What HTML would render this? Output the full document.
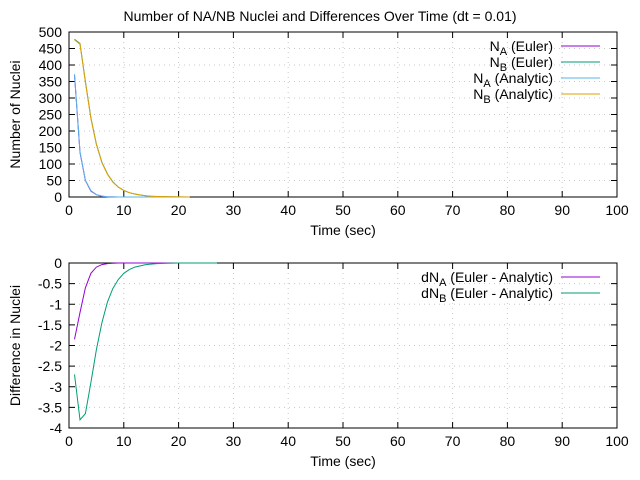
<!DOCTYPE html>
<html><head><meta charset="utf-8"><style>
html,body{margin:0;padding:0;background:#fff;}
svg{display:block;font-family:"Liberation Sans","DejaVu Sans",sans-serif;font-size:14px;}
</style></head><body>
<svg id="chart" width="640" height="480" xmlns="http://www.w3.org/2000/svg">
<rect width="640" height="480" fill="#fff"/>
<text x="320" y="21" text-anchor="middle">Number of NA/NB Nuclei and Differences Over Time (dt = 0.01)</text>
<g id="top"></g>
<g id="bot"></g>
</svg>
<script>
const tTop = [1,2,3,4,5,6,7,8,9,10,11,12,13,14,15,16,18,20,22];
const nAEuler = [370,135,50,18,7,2.5,1,0.3,0.1,0,0,0,0,0,0,0,0,0,0];
const nAAnalytic = [372,137,51,19,7,2.6,1,0.35,0.1,0,0,0,0,0,0,0,0,0,0];
const nBEuler = [478,465,350,240,160,105,70,46,30,20,13,9,6,4,2.5,1.6,0.7,0.3,0];
const nBAnalytic = [476,463,348,238,159,104,69,45,30,20,13,9,6,4,2.5,1.6,0.7,0.3,0];
const tBot = [1,2,3,4,5,6,7,8,9,10,11,12,14,16,18,20,24,27];
const dA = [-1.85,-1.2,-0.6,-0.25,-0.1,-0.04,-0.015,-0.005,0,0,0,0,0,0,0,0,0,0];
const dB = [-2.7,-3.8,-3.65,-2.9,-2.1,-1.45,-0.95,-0.62,-0.4,-0.25,-0.16,-0.1,-0.04,-0.015,-0.005,0,0,0];
const xTicks = [0,10,20,30,40,50,60,70,80,90,100];
const yTicksTop = [0,50,100,150,200,250,300,350,400,450,500];
const yTicksBot = [0,-0.5,-1,-1.5,-2,-2.5,-3,-3.5,-4];

const NS="http://www.w3.org/2000/svg";
function mk(parent,tag,attrs){const e=document.createElementNS(NS,tag);for(const k in attrs)e.setAttribute(k,attrs[k]);parent.appendChild(e);return e;}
const L=69,R=617;
function plot(g,top,bottom,ymin,ymax,yTicks,ylabel,series,legend){
  const sx=v=>L+(v-0)/(100-0)*(R-L);
  const sy=v=>bottom-(v-ymin)/(ymax-ymin)*(bottom-top);
  xTicks.forEach(v=>{
    const x=sx(v);
    if(v>0&&v<100){const gl=mk(g,'line',{x1:x,x2:x,y1:top,y2:bottom,stroke:'#c8c8c8','stroke-dasharray':'1,4'});
    }
    const tk=mk(g,'path',{d:`M${x},${bottom}v-6M${x},${top}v6`,stroke:'#000'});
    
    const t=mk(g,'text',{x:x,y:bottom+18,'text-anchor':'middle'});t.textContent=v;
    
  });
  yTicks.forEach(v=>{
    const y=sy(v);
    if(v!==ymin&&v!==ymax){const gl=mk(g,'line',{x1:L,x2:R,y1:y,y2:y,stroke:'#c8c8c8','stroke-dasharray':'1,4'});
    }
    const tk=mk(g,'path',{d:`M${L},${y}h6M${R},${y}h-6`,stroke:'#000'});
    
    const t=mk(g,'text',{x:L-7,y:y+5,'text-anchor':'end'});t.textContent=v;
    
  });
  const fr=mk(g,'rect',{x:L,y:top,width:R-L,height:bottom-top,fill:'none',stroke:'#000'});
  
  const xl=mk(g,'text',{x:(L+R)/2,y:bottom+38,'text-anchor':'middle'});xl.textContent='Time (sec)';
  
  const cy=(top+bottom)/2;
  const yl=mk(g,'text',{x:20,y:cy,'text-anchor':'middle',transform:`rotate(-90 20 ${cy})`});yl.textContent=ylabel;
  
  series.forEach(s=>{
    const d=s.t.map((t,i)=>(i?'L':'M')+sx(t).toFixed(1)+','+sy(s.v[i]).toFixed(1)).join('');
    const p=mk(g,'path',{d:d,fill:'none',stroke:s.c,'stroke-width':1});
    
  });
  legend.forEach((lg,i)=>{
    const y=top+14+i*16;
    const t=mk(g,'text',{x:553,y:y+5,'text-anchor':'end'});
    t.innerHTML=lg.html;
    
    const l=mk(g,'line',{x1:561,x2:600,y1:y,y2:y,stroke:lg.c,'stroke-width':1});
    
  });
}
const sub=s=>`<tspan dy="4" font-size="11">${s}</tspan><tspan dy="-4">`;
plot(document.getElementById('top'),32,197,0,500,yTicksTop,'Number of Nuclei',[
 {t:tTop,v:nAEuler,c:'#9400d3',name:'na-euler-line'},
 {t:tTop,v:nBEuler,c:'#009e73',name:'nb-euler-line'},
 {t:tTop,v:nAAnalytic,c:'#56b4e9',name:'na-analytic-line'},
 {t:tTop,v:nBAnalytic,c:'#e69f00',name:'nb-analytic-line'}
],[
 {html:'N'+sub('A')+' (Euler)</tspan>',c:'#9400d3'},
 {html:'N'+sub('B')+' (Euler)</tspan>',c:'#009e73'},
 {html:'N'+sub('A')+' (Analytic)</tspan>',c:'#56b4e9'},
 {html:'N'+sub('B')+' (Analytic)</tspan>',c:'#e69f00'}
]);
plot(document.getElementById('bot'),263,428,-4,0,yTicksBot,'Difference in Nuclei',[
 {t:tBot,v:dA,c:'#9400d3',name:'dna-line'},
 {t:tBot,v:dB,c:'#009e73',name:'dnb-line'}
],[
 {html:'dN'+sub('A')+' (Euler - Analytic)</tspan>',c:'#9400d3'},
 {html:'dN'+sub('B')+' (Euler - Analytic)</tspan>',c:'#009e73'}
]);
</script>
</body></html>
